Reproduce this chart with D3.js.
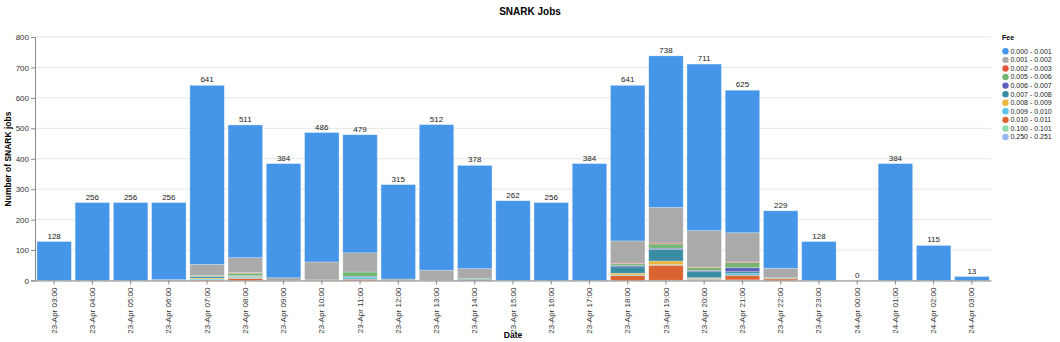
<!DOCTYPE html>
<html><head><meta charset="utf-8">
<script src="https://cdn.jsdelivr.net/npm/d3@7"></script>
<style>
body{margin:0;background:#fff;}
svg{font-family:Helvetica,Arial,"Liberation Sans",sans-serif;}
</style></head>
<body><svg id="c" width="1060" height="342"></svg>
<script>
const hours = ["23-Apr 03:00","23-Apr 04:00","23-Apr 05:00","23-Apr 06:00","23-Apr 07:00","23-Apr 08:00","23-Apr 09:00","23-Apr 10:00","23-Apr 11:00","23-Apr 12:00","23-Apr 13:00","23-Apr 14:00","23-Apr 15:00","23-Apr 16:00","23-Apr 17:00","23-Apr 18:00","23-Apr 19:00","23-Apr 20:00","23-Apr 21:00","23-Apr 22:00","23-Apr 23:00","24-Apr 00:00","24-Apr 01:00","24-Apr 02:00","24-Apr 03:00"];
const feeLevels = ["0.000 - 0.001","0.001 - 0.002","0.002 - 0.003","0.005 - 0.006","0.006 - 0.007","0.007 - 0.008","0.008 - 0.009","0.009 - 0.010","0.010 - 0.011","0.100 - 0.101","0.250 - 0.251"];
const feeColors = ["#4596e8","#aaaaaa","#e4573f","#74b574","#5b5fb8","#3a8ca5","#e8b63c","#5bc3e6","#dc6431","#8fdca8","#94b5ef"];
const fee0000 = [128,256,256,253,588,436,375,425,388,310,478,339,262,256,384,511,498,547,468,189,128,0,384,115,13];
const fee0001 = [0,0,0,3,37,49,9,59,63,5,34,33,0,0,0,73,117,120,96,31,0,0,0,0,0];
const fee0002 = [0,0,0,0,0,2,0,0,0,0,0,0,0,0,0,2,3,2,2,0,0,0,0,0,0];
const fee0005 = [0,0,0,0,3,7,0,2,14,0,0,2,0,0,0,6,14,9,17,2,0,0,0,0,0];
const fee0006 = [0,0,0,0,0,0,0,0,0,0,0,0,0,0,0,4,4,4,13,0,0,0,0,0,0];
const fee0007 = [0,0,0,0,5,3,0,0,4,0,0,4,0,0,0,21,38,20,6,2,0,0,0,0,0];
const fee0008 = [0,0,0,0,3,3,0,0,0,0,0,0,0,0,0,6,12,2,0,0,0,0,0,0,0];
const fee0009 = [0,0,0,0,3,4,0,0,6,0,0,0,0,0,0,2,2,3,6,0,0,0,0,0,0];
const fee0010 = [0,0,0,0,2,7,0,0,4,0,0,0,0,0,0,16,49,3,15,5,0,0,0,0,0];
const fee0100 = [0,0,0,0,0,0,0,0,0,0,0,0,0,0,0,0,1,0,2,0,0,0,0,0,0];
const fee0250 = [0,0,0,0,0,0,0,0,0,0,0,0,0,0,0,0,0,1,0,0,0,0,0,0,0];
const series = [fee0000,fee0001,fee0002,fee0005,fee0006,fee0007,fee0008,fee0009,fee0010,fee0100,fee0250];
const yTicks = [0,100,200,300,400,500,600,700,800];

const rows = hours.map((h,i)=>{const r={hour:h};feeLevels.forEach((f,k)=>r[f]=series[k][i]);return r;});
const svg = d3.select("#c");
const x = d3.scaleBand().domain(hours).range([35,991]).paddingInner(0.1).paddingOuter(0.05);
const y = d3.scaleLinear().domain([0,800]).range([280.5,37]);
const color = d3.scaleOrdinal().domain(feeLevels).range(feeColors);

// grid
svg.append("g").selectAll("line").data(yTicks).join("line")
  .attr("x1",35).attr("x2",991).attr("y1",d=>y(d)).attr("y2",d=>y(d))
  .attr("stroke","#e6e6e6").attr("stroke-width",1);

// stack: last fee level at the bottom
const stackKeys = feeLevels.slice().reverse();
const stacked = d3.stack().keys(stackKeys)(rows);
svg.append("g").selectAll("g").data(stacked).join("g")
  .attr("fill",d=>color(d.key))
  .selectAll("rect").data(d=>d).join("rect")
  .attr("x",d=>x(d.data.hour)).attr("width",x.bandwidth())
  .attr("y",d=>y(d[1])).attr("height",d=>Math.max(0,y(d[0])-y(d[1])))
  .attr("stroke","#ffffff").attr("stroke-opacity",0.3).attr("stroke-width",0.8);

// totals
svg.append("g").selectAll("text").data(rows).join("text")
  .attr("x",d=>x(d.hour)+x.bandwidth()/2)
  .attr("y",d=>y(d3.sum(feeLevels,f=>d[f]))-3)
  .attr("text-anchor","middle").attr("font-size",8).attr("fill","#222")
  .text(d=>d3.sum(feeLevels,f=>d[f]));

// y axis
const ya = svg.append("g").attr("transform","translate(35,0)")
  .call(d3.axisLeft(y).tickValues(yTicks).tickSize(4).tickPadding(2));
ya.select(".domain").attr("stroke","#888");
ya.selectAll(".tick line").attr("stroke","#888");
ya.selectAll("text").attr("font-size",8).attr("fill","#333").attr("font-family","Helvetica,Arial,'Liberation Sans',sans-serif");

// x axis
const xa = svg.append("g").attr("transform","translate(0,280.5)")
  .call(d3.axisBottom(x).tickSize(4).tickSizeOuter(0));
xa.select(".domain").attr("stroke","#888");
xa.selectAll(".tick line").attr("stroke","#888");
xa.selectAll("text").attr("font-size",8).attr("fill","#333")
  .attr("font-family","Helvetica,Arial,'Liberation Sans',sans-serif")
  .attr("transform","rotate(-90)").attr("text-anchor","end")
  .attr("x",-7).attr("y",0).attr("dy","0.32em");

// titles
svg.append("text").attr("x",530).attr("y",15).attr("text-anchor","middle")
  .attr("font-size",10).attr("font-weight","bold").attr("fill","#000").text("SNARK Jobs");
svg.append("text").attr("transform","translate(11,159) rotate(-90)").attr("text-anchor","middle")
  .attr("font-size",8.5).attr("font-weight","bold").attr("fill","#000").text("Number of SNARK jobs");
svg.append("text").attr("x",513).attr("y",338).attr("text-anchor","middle")
  .attr("font-size",8.5).attr("font-weight","bold").attr("fill","#000").text("Date");

// legend
const lg = svg.append("g");
lg.append("text").attr("x",1002).attr("y",40).attr("font-size",7).attr("font-weight","bold").attr("fill","#000").text("Fee");
const li = lg.selectAll("g.it").data(feeLevels).join("g").attr("class","it")
  .attr("transform",(d,i)=>`translate(1005.5,${51.3+i*8.57})`);
li.append("circle").attr("r",3.2).attr("fill",d=>color(d));
li.append("text").attr("x",5).attr("y",0).attr("dy","0.35em").attr("font-size",7).attr("fill","#222").text(d=>d);
</script></body></html>
